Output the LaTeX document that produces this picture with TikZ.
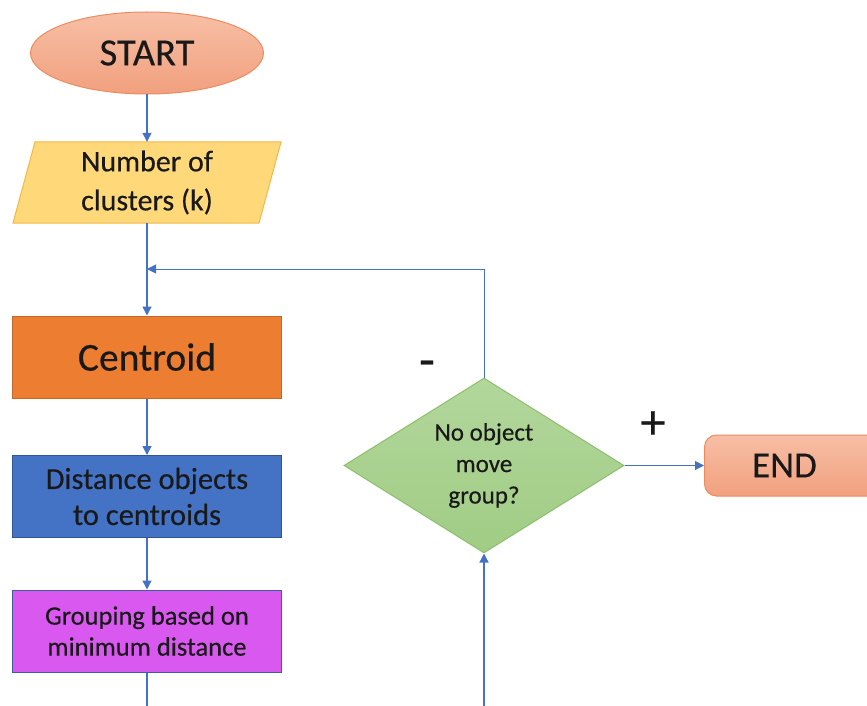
\documentclass[tikz,border=0pt]{standalone}
\usepackage{fontspec}
\setmainfont{Carlito}[FakeBold=0.35]
\usetikzlibrary{shapes.geometric,arrows.meta,calc}

\definecolor{flow}{HTML}{4472C4}
\definecolor{salmonT}{HTML}{F7BFA6}
\definecolor{salmonB}{HTML}{F1A07E}
\definecolor{salmonE}{HTML}{EC8C5E}
\definecolor{inputF}{HTML}{FFD87A}
\definecolor{inputE}{HTML}{F3B846}
\definecolor{centF}{HTML}{ED7D31}
\definecolor{centE}{HTML}{C4672A}
\definecolor{distF}{HTML}{4472C4}
\definecolor{distE}{HTML}{2F5597}
\definecolor{grpF}{HTML}{D858F0}
\definecolor{grpE}{HTML}{3E5C9E}
\definecolor{decT}{HTML}{B2D79C}
\definecolor{decB}{HTML}{A0CC84}
\definecolor{decE}{HTML}{8DBE6C}

\tikzset{
  txt/.style={text=black!90, align=center, inner sep=0pt},
  terminal/.style={txt, ellipse, draw=salmonE, line width=1pt,
    top color=salmonT, bottom color=salmonB},
  process/.style={txt, rectangle, line width=1pt,
    minimum width=269pt, minimum height=82pt},
  decision/.style={txt, diamond, draw=decE, line width=1pt,
    top color=decT, bottom color=decB, aspect=1.6,
    minimum width=280pt, minimum height=175pt},
  flowline/.style={draw=flow, line width=1.3pt},
  arr/.style={flowline, -{Triangle[width=9pt,length=9pt]}},
  sign/.style={inner sep=0pt, text=black!90}
}

\begin{document}
\begin{tikzpicture}[x=1pt, y=-1pt]
  \useasboundingbox (0,0) rectangle (867,706);
  \clip (0,0) rectangle (867,706);

  % start terminal
  \node[terminal, minimum width=233pt, minimum height=82pt,
        font=\fontsize{38.5}{42}\selectfont] (start) at (147,53) {START};

  % input: number of clusters (parallelogram)
  \filldraw[fill=inputF, draw=inputE, line width=1pt]
    (35,142) -- (281,142) -- (259,223) -- (13,223) -- cycle;
  \node[txt, minimum width=246pt, minimum height=81pt,
        font=\fontsize{30}{39}\selectfont] (num) at (147,182.5)
        {Number of\\clusters (k)};

  % processing steps
  \node[process, fill=centF, draw=centE,
        font=\fontsize{39.5}{42}\selectfont] (cen) at (147,357) {Centroid};
  \node[process, fill=distF, draw=distE,
        font=\fontsize{30.5}{36}\selectfont] (dist) at (147,496.5)
        {Distance objects\\to centroids};
  \node[process, fill=grpF, draw=grpE,
        font=\fontsize{26.5}{31}\selectfont] (grp) at (147,631)
        {Grouping based on\\minimum distance};

  % decision
  \node[decision, font=\fontsize{25}{31.5}\selectfont] (dec) at (484,465.5)
        {No object\\move\\group?};

  % end terminal (runs past the right edge)
  \node[txt, rectangle, rounded corners=12pt, draw=salmonE, line width=1pt,
        top color=salmonT, bottom color=salmonB, anchor=west,
        minimum width=190pt, minimum height=61pt,
        font=\fontsize{37}{40}\selectfont] (end) at (704,465.5)
        {\hspace*{-30pt}END};

  % connectors
  \coordinate (join) at (147,269);
  \coordinate (grpout) at (147,706);
  \coordinate (decin) at (484,706);

  \draw[arr] (start.south) -- (num.north);
  \draw[flowline] (num.south) -- (join);
  \draw[arr] (join) -- (cen.north);
  \draw[arr] (cen.south) -- (dist.north);
  \draw[arr] (dist.south) -- (grp.north);
  \draw[flowline] (grp.south) -- (grpout);
  \draw[arr] (decin) -- (dec.south);
  \draw[arr, line width=1pt] (dec.north) |- (join);
  \draw[arr, line width=1pt] (dec.east) -- (end.west);

  % branch labels
  \node[sign, font=\fontsize{52}{52}\selectfont] (minus) at (427,369) {-};
  \node[sign, font=\fontsize{50}{50}\selectfont] (plus) at (653,425) {+};
\end{tikzpicture}
\end{document}
